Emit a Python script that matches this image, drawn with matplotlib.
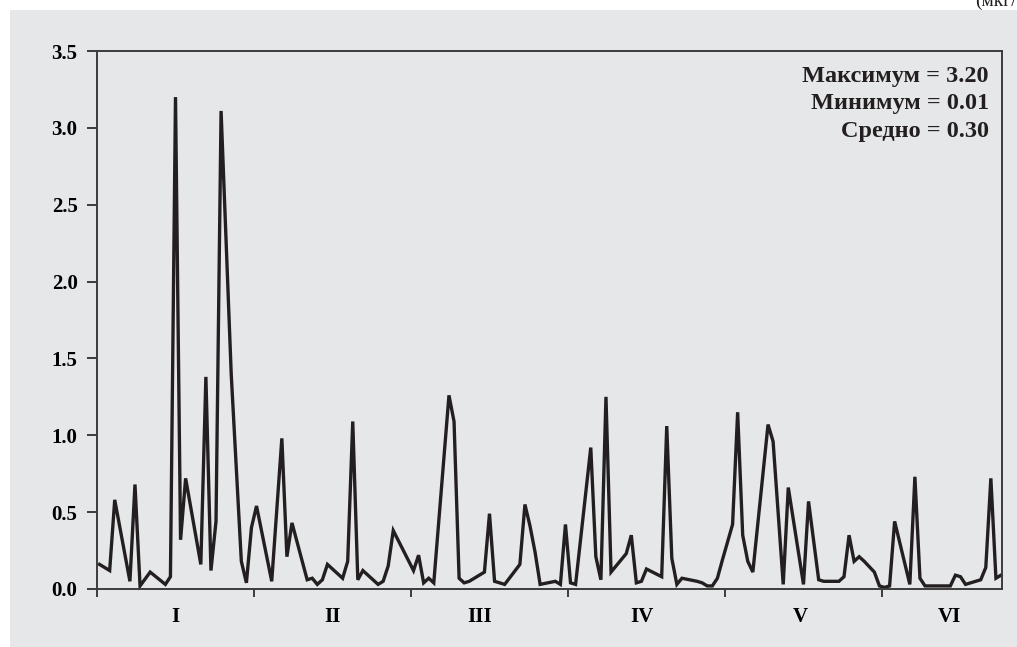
import matplotlib
matplotlib.use("Agg")
import matplotlib.pyplot as plt
from matplotlib.patches import Rectangle

# ---- data ----
months = ["I", "II", "III", "IV", "V", "VI"]
days_per_month = 31  # equal-width month segments on the axis
day_index = [0, 2, 3, 6, 7, 8, 10, 13, 14, 15, 16, 17, 20, 21, 22, 23, 24, 26, 28, 29, 30,
             31, 34, 36, 37, 38, 41, 42, 43, 44, 45, 48, 49, 50, 51, 52, 55, 56, 57, 58,
             62, 63, 64, 65, 66, 69, 70, 71, 72, 73, 76, 77, 78, 80, 83, 84, 85, 86, 87, 90, 91, 92,
             93, 94, 97, 98, 99, 100, 101, 104, 105, 106, 107, 108, 111, 112, 113, 114, 115, 118, 119, 120, 121, 122,
             123, 125, 126, 127, 128, 129, 132, 133, 135, 136, 139, 140, 142, 143, 146, 147, 148, 149, 150, 151, 153, 154,
             155, 156, 157, 160, 161, 162, 163, 168, 169, 170, 171, 174, 175, 176, 177, 178]
values = [0.16, 0.12, 0.58, 0.05, 0.68, 0.02, 0.11, 0.03, 0.08, 3.20, 0.32, 0.72, 0.16, 1.38, 0.12, 0.44, 3.11, 1.40, 0.18, 0.04, 0.40,
          0.54, 0.05, 0.98, 0.21, 0.43, 0.06, 0.07, 0.03, 0.06, 0.16, 0.07, 0.18, 1.09, 0.06, 0.12, 0.03, 0.05, 0.15, 0.38,
          0.12, 0.22, 0.04, 0.07, 0.04, 1.26, 1.09, 0.07, 0.04, 0.05, 0.11, 0.49, 0.05, 0.03, 0.16, 0.55, 0.41, 0.24, 0.03, 0.05, 0.03, 0.42,
          0.04, 0.03, 0.92, 0.21, 0.06, 1.25, 0.11, 0.23, 0.35, 0.04, 0.05, 0.13, 0.08, 1.06, 0.20, 0.03, 0.07, 0.05, 0.04, 0.02, 0.02, 0.07,
          0.19, 0.42, 1.15, 0.35, 0.18, 0.11, 1.07, 0.96, 0.03, 0.66, 0.03, 0.57, 0.06, 0.05, 0.05, 0.08, 0.35, 0.18, 0.21, 0.18, 0.11, 0.02,
          0.01, 0.02, 0.44, 0.03, 0.73, 0.07, 0.02, 0.02, 0.09, 0.08, 0.03, 0.06, 0.14, 0.72, 0.07, 0.09]
y_ticks = [0.0, 0.5, 1.0, 1.5, 2.0, 2.5, 3.0, 3.5]
stats_text = ["Максимум = 3.20", "Минимум = 0.01", "Средно = 0.30"]
unit_text = "(мкг/м³)"

# ---- figure ----
W, H = 1017, 647
fig = plt.figure(figsize=(W / 100, H / 100), dpi=100, facecolor="white")
bg = "#e6e7e8"
fig.patches.append(Rectangle((10 / W, 0), 1 - 10 / W, 1 - 10 / H, transform=fig.transFigure,
                             facecolor=bg, edgecolor="none", zorder=-10))

ax = fig.add_axes([97 / W, 1 - 589 / H, (1002 - 97) / W, (589 - 51) / H])
ax.set_facecolor(bg)
ax.set_zorder(1)

x = [d + 0.5 for d in day_index]
ax.plot(x, values, color="#231f20", lw=2.4, solid_joinstyle="miter", clip_on=False)

ax.set_xlim(0, 178.7)
ax.set_ylim(0, 3.5)

serif = ["Liberation Serif", "DejaVu Serif"]
spine_c = "#3c3c3c"
for s in ax.spines.values():
    s.set_color(spine_c)
    s.set_linewidth(1.4)

ax.set_yticks(y_ticks)
ax.set_yticklabels([f"{v:.1f}" for v in y_ticks], fontfamily=serif, fontweight="bold", fontsize=15)
ax.tick_params(axis="y", direction="out", length=7, width=1.4, color=spine_c, pad=7)

n = len(months)
label_pos = [15.5, 46.5, 75.6, 107.6, 138.8, 168.4]
ax.set_xticks([i * days_per_month for i in range(n)])
ax.set_xticklabels([])
ax.set_xticks(label_pos, minor=True)
ax.set_xticklabels(months, minor=True, fontfamily=serif, fontweight="bold", fontsize=15)
ax.tick_params(axis="x", which="major", direction="out", length=6, width=1.4, color=spine_c)
ax.tick_params(axis="x", which="minor", length=0, pad=13)

ax.text(0.9855, 0.973, "\n".join(stats_text), transform=ax.transAxes, ha="right", va="top",
        fontfamily=serif, fontweight="bold", fontsize=17.5, linespacing=1.42, color="#231f20")

fig.text(975 / W, 1 - 6 / H, unit_text, ha="left", va="baseline", fontfamily=serif, fontsize=14, color="#231f20")

fig.savefig("out.png", dpi=100, facecolor="white")
